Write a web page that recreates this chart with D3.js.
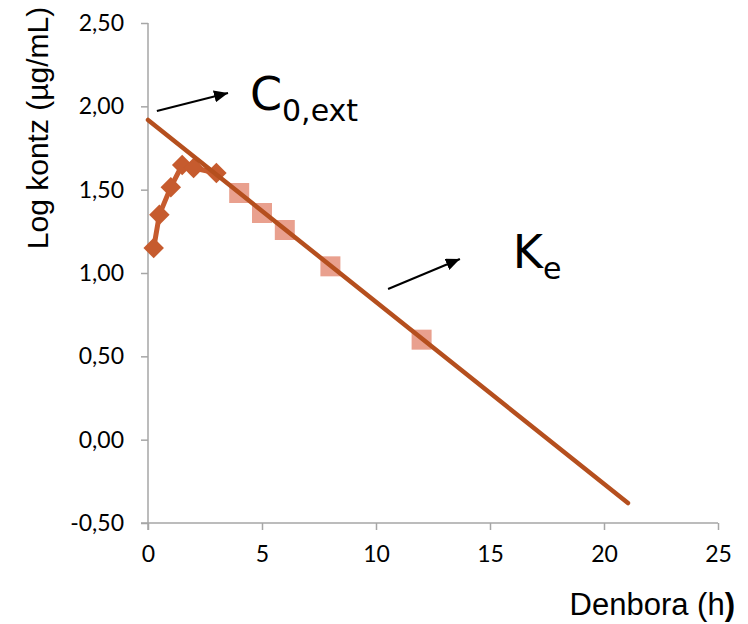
<!DOCTYPE html>
<html>
<head>
<meta charset="utf-8">
<script src="https://cdn.jsdelivr.net/npm/d3@7"></script>
<style>
  body { margin: 0; background: #fff; }
  svg { display: block; }
</style>
</head>
<body>
<svg id="chart" width="748" height="624"></svg>
<script>
// Absorption phase (measured points joined by a line)
const absTime = [0.25, 0.5, 1, 1.5, 2, 3];
const absLogC = [1.15, 1.35, 1.515, 1.648, 1.63, 1.60];

// Elimination phase points used for the fit
const elimTime = [4, 5, 6, 8, 12];
const elimLogC = [1.48, 1.36, 1.258, 1.04, 0.60];

// Fitted terminal line, extrapolated back to t = 0
const fitTime = [0, 21.05];
const fitLogC = [1.918, -0.38];

const xTicks = [0, 5, 10, 15, 20, 25];
const yTicks = [-0.5, 0, 0.5, 1, 1.5, 2, 2.5];

const svg = d3.select("#chart");
const x = d3.scaleLinear().domain([0, 25]).range([148, 718]);
const y = d3.scaleLinear().domain([-0.5, 2.5]).range([523, 23]);

const axisColor = "#a6a6a6";
const tickFont = "Lato, 'DejaVu Sans', sans-serif";
const fmt = d => d3.format(".2f")(d).replace(".", ",").replace("\u2212", "-");

// Y axis
const gy = svg.append("g").attr("transform", `translate(${x(0)},0)`)
  .call(d3.axisLeft(y).tickValues(yTicks).tickSize(7).tickPadding(17).tickFormat(fmt));
// X axis
const gx = svg.append("g").attr("transform", `translate(0,${y(-0.5)})`)
  .call(d3.axisBottom(x).tickValues(xTicks).tickSize(7).tickPadding(16).tickFormat(d3.format("d")));

[gx, gy].forEach(g => {
  g.select(".domain").remove();
  g.selectAll(".tick line").attr("stroke", axisColor).attr("stroke-width", 1.5);
  g.selectAll(".tick text").attr("fill", "#000").style("font-family", tickFont).style("font-size", "23px");
});
// axis lines
svg.append("line").attr("x1", x(0)).attr("x2", x(0)).attr("y1", y(2.5)).attr("y2", y(-0.5) + 7)
  .attr("stroke", axisColor).attr("stroke-width", 1.5);
svg.append("line").attr("x1", x(0) - 7).attr("x2", x(25)).attr("y1", y(-0.5)).attr("y2", y(-0.5))
  .attr("stroke", axisColor).attr("stroke-width", 1.5);

// Axis titles
svg.append("text")
  .attr("transform", `translate(48,128) rotate(-90)`)
  .attr("text-anchor", "middle")
  .style("font-family", "'Liberation Sans', Arial, sans-serif")
  .style("font-size", "30px")
  .text("Log kontz (µg/mL)");

const xt = svg.append("text")
  .attr("x", 735).attr("y", 615)
  .attr("text-anchor", "end")
  .style("font-family", "'Liberation Sans', Arial, sans-serif")
  .style("font-size", "31px");
xt.append("tspan").text("Denbora (h");
xt.append("tspan").attr("font-weight", "bold").text(")");

// Absorption series
const absData = absTime.map((t, i) => [t, absLogC[i]]);
svg.append("path").datum(absData)
  .attr("d", d3.line().x(d => x(d[0])).y(d => y(d[1])))
  .attr("fill", "none").attr("stroke", "#c65b2e").attr("stroke-width", 5)
  .attr("stroke-linejoin", "round");
svg.selectAll(".dia").data(absData).join("path")
  .attr("class", "dia")
  .attr("transform", d => `translate(${x(d[0])},${y(d[1])}) rotate(45)`)
  .attr("d", d3.symbol().type(d3.symbolSquare).size(210))
  .attr("fill", "#c65b2e");

// Elimination points
const elimData = elimTime.map((t, i) => [t, elimLogC[i]]);
svg.selectAll(".sq").data(elimData).join("path")
  .attr("class", "sq")
  .attr("transform", d => `translate(${x(d[0])},${y(d[1])})`)
  .attr("d", d3.symbol().type(d3.symbolSquare).size(400))
  .attr("fill", "#e9a08e");

// Fitted line
const fitData = fitTime.map((t, i) => [t, fitLogC[i]]);
svg.append("path").datum(fitData)
  .attr("d", d3.line().x(d => x(d[0])).y(d => y(d[1])))
  .attr("fill", "none").attr("stroke", "#b54f1e").attr("stroke-width", 4.5)
  .attr("stroke-linecap", "round");

// Annotation arrows
svg.append("defs").append("marker")
  .attr("id", "arrow").attr("viewBox", "0 0 14 12")
  .attr("refX", 14).attr("refY", 6)
  .attr("markerWidth", 14).attr("markerHeight", 12)
  .attr("markerUnits", "userSpaceOnUse").attr("orient", "auto")
  .append("path").attr("d", "M0,0 L14,6 L0,12 Z").attr("fill", "#000");

const arrows = [
  { from: [0.39, 1.972], to: [3.51, 2.08] },
  { from: [10.53, 0.904], to: [13.68, 1.084] }
];
svg.selectAll(".arr").data(arrows).join("line")
  .attr("class", "arr")
  .attr("x1", d => x(d.from[0])).attr("y1", d => y(d.from[1]))
  .attr("x2", d => x(d.to[0])).attr("y2", d => y(d.to[1]))
  .attr("stroke", "#000").attr("stroke-width", 2)
  .attr("marker-end", "url(#arrow)");

// Parameter labels
const labelFont = "'DejaVu Sans', Verdana, sans-serif";
const labels = [
  { at: [4.47, 1.978], main: "C", sub: "0,ext" },
  { at: [16.0, 1.03], main: "K", sub: "e" }
];
labels.forEach(l => {
  const t = svg.append("text")
    .attr("x", x(l.at[0])).attr("y", y(l.at[1]))
    .style("font-family", labelFont).style("font-size", "46px");
  t.append("tspan").text(l.main);
  t.append("tspan").attr("dy", 11).style("font-size", "30px").text(l.sub);
});
</script>
</body>
</html>
